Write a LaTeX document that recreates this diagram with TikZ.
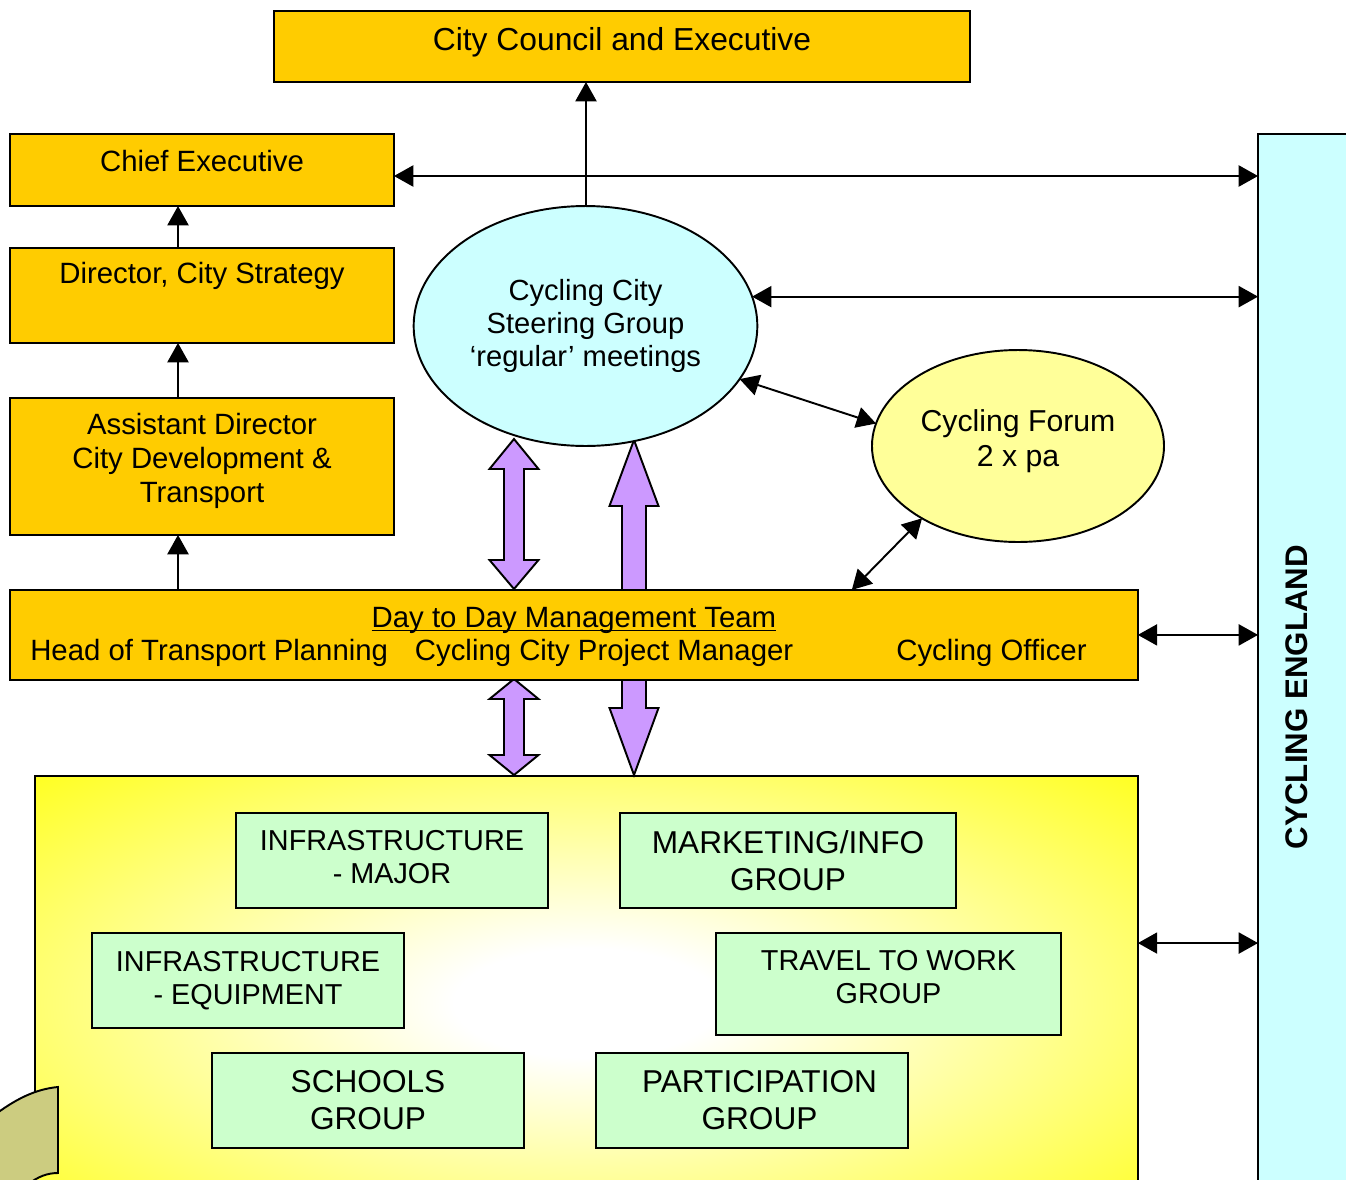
\documentclass[tikz,border=0pt]{standalone}
\usepackage{fontspec}
\setmainfont{Liberation Sans}
\usepackage{tikz}
\usetikzlibrary{positioning}
\usetikzlibrary{shapes.geometric}
\usetikzlibrary{arrows.meta}
\usetikzlibrary{calc}
\usepackage{xcolor}

\definecolor{councilgold}{HTML}{FFCC00}
\definecolor{steercyan}{HTML}{CCFFFF}
\definecolor{forumyellow}{HTML}{FFFF99}
\definecolor{groupgreen}{HTML}{CCFFCC}
\definecolor{linklilac}{HTML}{CC99FF}
\definecolor{cornertan}{RGB}{204,204,128}
\pgfdeclareradialshading{groupglow}{\pgfpoint{0bp}{0bp}}{color(0bp)=(white); color(6bp)=(white); color(40bp)=(yellow); color(50bp)=(yellow)}
\newcommand\teamunderline[1]{\setbox0\hbox{#1}\rlap{\rule[-2.3pt]{\wd0}{1pt}}\box0}

\begin{document}
\begin{tikzpicture}[
		x=0.02cm, y=-0.02cm,
		% Style definitions - one unit is one pixel of the page
		team/.style={draw, line width=1.1pt, fill=councilgold, outer sep=0pt, align=center, font=\fontsize{16.7}{19.2}\selectfont},
		post/.style={team, text depth=10pt},
		meeting/.style={draw, ellipse, line width=1.1pt, outer sep=0pt, align=center, font=\fontsize{16.6}{19}\selectfont},
		group/.style={draw, line width=1pt, fill=groupgreen, outer sep=0pt, minimum height=1.9cm, align=center, font=\fontsize{16.4}{18.9}\selectfont},
		biggroup/.style={group, font=\fontsize{18}{21}\selectfont},
		fatlink/.style={draw, line width=1.1pt, fill=linklilac, line join=miter},
		arrow/.style={-{Triangle[length=11pt, width=12pt]}, line width=1.1pt},
		bidir/.style={{Triangle[length=11pt, width=12pt]}-{Triangle[length=11pt, width=12pt]}, line width=1.1pt},
		]
		\useasboundingbox (0,0) rectangle (1346,1180);
		\clip (0,0) rectangle (1346,1180);

		% === Working groups (bottom) ===
		\node[draw, line width=1.1pt, shading=groupglow, outer sep=0pt, minimum width=22.06cm, minimum height=9.08cm] (groups) at (586.5,1003) {};
		\node[group, minimum width=6.24cm, text depth=4pt] (infmajor) at (392,860.5) {INFRASTRUCTURE\\- MAJOR};
		\node[biggroup, minimum width=6.72cm] (marketing) at (788,860.5) {MARKETING/INFO\\GROUP};
		\node[group, minimum width=6.24cm] (infequip) at (248,980.5) {INFRASTRUCTURE\\- EQUIPMENT};
		\node[group, minimum width=6.9cm, minimum height=2.04cm, text depth=8pt] (traveltowork) at (888.5,984) {TRAVEL TO WORK\\GROUP};
		\node[biggroup, minimum width=6.24cm] (schools) at (368,1100.5) {SCHOOLS\\GROUP};
		\node[biggroup, minimum width=6.24cm] (participation) at (752,1100.5) {\hspace*{0.3cm}PARTICIPATION\\\hspace*{0.3cm}GROUP};
		\draw[line width=1.1pt, fill=cornertan] (58,1087) -- (58,1173) .. controls (48,1173) and (38,1176) .. (26,1186) -- (-8,1186) -- (-8,1117) .. controls (15,1099) and (36,1089) .. (58,1087) -- cycle;

		% === Cycling England (right edge) ===
		\node[draw, line width=1.1pt, fill=steercyan, outer sep=0pt, minimum width=3.2cm, minimum height=22.52cm] (england) at (1338,697) {};
		\node[rotate=90, font=\fontsize{17.8}{21}\selectfont\bfseries] (englandtext) at ($(england.west)+(39,0)$) {CYCLING ENGLAND};

		% === Fat links between steering group, team and working groups ===
		\coordinate (linktop) at (514,439);
		\coordinate (linkfoot) at (514,589);
		\coordinate (grouplinktop) at (514,679);
		\coordinate (grouplinkfoot) at (514,775);
		\coordinate (reporttip) at (634,440);
		\coordinate (reporttail) at (634,590);
		\coordinate (brieftail) at (634,680);
		\coordinate (brieftip) at (634,775);
		\draw[fatlink] (linktop) -- ++(24.5,30) -- ++(-14.5,0) -- ($(linkfoot)+(10,-29)$) -- ++(14.5,0) -- (linkfoot)
			-- ++(-24.5,-29) -- ++(14.5,0) -- ($(linktop)+(-10,30)$) -- ++(-14.5,0) -- cycle;
		\draw[fatlink] (grouplinktop) -- ++(24.5,20) -- ++(-14.5,0) -- ($(grouplinkfoot)+(10,-20)$) -- ++(14.5,0) -- (grouplinkfoot)
			-- ++(-24.5,-20) -- ++(14.5,0) -- ($(grouplinktop)+(-10,20)$) -- ++(-14.5,0) -- cycle;
		\draw[fatlink] (reporttip) -- ++(24.5,66) -- ++(-12.5,0) -- ($(reporttail)+(12,0)$)
			-- ($(reporttail)+(-12,0)$) -- ($(reporttip)+(-12,66)$) -- ++(-12.5,0) -- cycle;
		\draw[fatlink] (brieftip) -- ++(24.5,-67) -- ++(-12.5,0) -- ($(brieftail)+(12,0)$)
			-- ($(brieftail)+(-12,0)$) -- ($(brieftip)+(-12,-67)$) -- ++(-12.5,0) -- cycle;

		% === Council and officer chain (left) ===
		\node[post, minimum width=13.92cm, minimum height=1.42cm, font=\fontsize{18.1}{21}\selectfont, text depth=8pt] (council) at (622,46.5) {City Council and Executive};
		\node[post, minimum width=7.68cm, minimum height=1.44cm] (chief) at (202,170) {Chief Executive};
		\node[post, minimum width=7.68cm, minimum height=1.9cm, below=0.84cm of chief, text depth=6pt] (director) {Director, City Strategy\\ \mbox{}};
		\node[post, minimum width=7.68cm, minimum height=2.74cm, below=1.1cm of director] (assistant) {Assistant Director\\City Development \&\\Transport};
		\node[team, minimum width=22.56cm, minimum height=1.8cm, below=1.1cm of assistant.south west, anchor=north west, text depth=1pt] (mgmt) {%
			\teamunderline{Day to Day Management Team}\\
			Head of Transport Planning\hspace{0.54cm}Cycling City Project Manager\hspace{2.06cm}Cycling Officer\hspace*{0.62cm}};

		% === Meetings ===
		\draw[arrow] (586,206) -- (586,82);
		\node[meeting, fill=steercyan, minimum width=6.74cm, minimum height=4.8cm] (steer) at (585.5,326) {Cycling City\\Steering Group\\‘regular’ meetings};
		\node[meeting, fill=forumyellow, minimum width=5.76cm, minimum height=3.84cm, text depth=9pt, font=\fontsize{17.2}{20.4}\selectfont] (forum) at (1018,446) {Cycling Forum\\2 x pa};

		% === Connections ===
		\coordinate (spine) at (178,0);
		\coordinate (chiefport) at ($(chief.east)+(0,6)$);
		\coordinate (forumfoot) at ($(mgmt.north east)+(-286,0)$);
		\coordinate (groupport) at ($(groups.north east)+(0,167)$);
		\draw[arrow] (spine |- director.north) -- (spine |- chief.south);
		\draw[arrow] (spine |- assistant.north) -- (spine |- director.south);
		\draw[arrow] (spine |- mgmt.north) -- (spine |- assistant.south);
		\draw[bidir] (chiefport) -- (chiefport -| england.west);
		\draw[bidir] (steer.10) -- (steer.10 -| england.west);
		\draw[bidir] (steer.-19) -- (forum.171);
		\draw[bidir] (forum.217) -- (forumfoot);
		\draw[bidir] (mgmt.east) -- (mgmt.east -| england.west);
		\draw[bidir] (groupport) -- (groupport -| england.west);

	\end{tikzpicture}
\end{document}
